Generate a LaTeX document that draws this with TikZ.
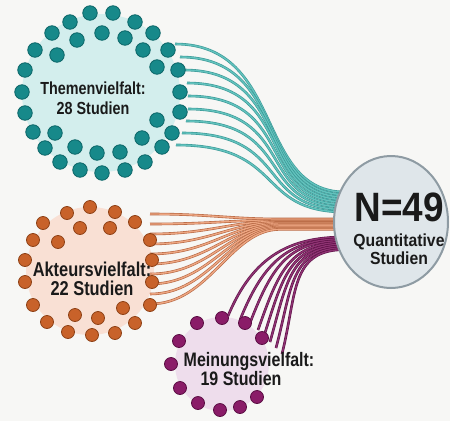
\documentclass[tikz,border=0pt]{standalone}
\usepackage{fontspec}
\setmainfont{Liberation Sans}
\newfontfamily\condf[FakeStretch=0.82]{Liberation Sans}
\newfontfamily\condw[FakeStretch=0.9]{Liberation Sans}
\usetikzlibrary{calc}
\definecolor{bgc}{HTML}{F7F7F5}
\definecolor{tealL}{HTML}{D3EEED}
\definecolor{tealD}{HTML}{17898A}
\definecolor{tealB}{HTML}{0C6668}
\definecolor{tealLine}{HTML}{62C2BD}
\definecolor{tealLineD}{HTML}{3A9896}
\definecolor{oraL}{HTML}{F9E0D4}
\definecolor{oraD}{HTML}{C8622A}
\definecolor{oraB}{HTML}{8E4217}
\definecolor{oraLine}{HTML}{EDA682}
\definecolor{oraLineD}{HTML}{B56641}
\definecolor{purL}{HTML}{EEDDEC}
\definecolor{purD}{HTML}{8A1C68}
\definecolor{purB}{HTML}{5A0E43}
\definecolor{purLine}{HTML}{8E3272}
\definecolor{purLineD}{HTML}{5C1146}
\definecolor{nFill}{HTML}{DFE6EA}
\definecolor{nBorder}{HTML}{8E9BA3}
\definecolor{txt}{HTML}{1A1A1A}
\begin{document}
\begin{tikzpicture}[x=1pt,y=-1pt,
  tealdot/.style={circle,inner sep=0pt,minimum size=14.5pt,fill=tealD,draw=tealB,line width=0.8pt},
  oradot/.style={circle,inner sep=0pt,minimum size=13pt,fill=oraD,draw=oraB,line width=0.8pt},
  purdot/.style={circle,inner sep=0pt,minimum size=13pt,fill=purD,draw=purB,line width=0.8pt},
  halo/.style={circle,inner sep=0pt},
  tline/.style={draw=tealLineD,double=tealLine,line width=0.6pt,double distance=1.4pt},
  oline/.style={draw=oraLineD,double=oraLine,line width=0.6pt,double distance=1.4pt},
  pline/.style={draw=purLineD,double=purLine,line width=0.6pt,double distance=1.4pt},
  lbl/.style={inner sep=0pt,text=txt,align=center}]
\fill[bgc] (0,0) rectangle (450,421);
\useasboundingbox (0,0) rectangle (450,421);

% halos
\node[halo,fill=tealL,minimum size=158pt] (themen) at (101,93) {};
\node[halo,fill=oraL,minimum size=128pt] (akteur) at (90,271) {};
\node[halo,fill=purL,minimum size=94pt] (meinung) at (222,364) {};

% teal connectors
\foreach \x/\y [count=\i from 0] in {175/44,180/57,184/70,187/83,188/96,188/109,186/121,182/133,176/145}{
  \coordinate (ts\i) at (\x,\y);
  \coordinate (te\i) at (345,{192+2.5*\i});
  \draw[tline] (ts\i) .. controls ($(ts\i)+(110,0)$) and (255,{192+2.5*\i}) .. (te\i);
}
% orange connectors
\foreach \i in {0,...,9}{
  \coordinate (os\i) at (150,{214+10*\i});
  \coordinate (oe\i) at (345,{219+1.15*\i});
  \draw[oline] (os\i) .. controls ($(os\i)+(60,0)$) and (230,{219+1.15*\i}) .. (280,{219+1.15*\i}) -- (oe\i);
}
% purple connectors
\foreach \x/\y/\dx [count=\i from 0] in {228/316/25,240/320/24,250/323/23,258/330/21,264/336/19,270/342/17,276/348/16,282/354/15}{
  \coordinate (ps\i) at (\x,\y);
  \coordinate (pe\i) at (345,{237+1.8*\i});
  \draw[pline] (ps\i) .. controls ($(ps\i)+(\dx,-60)$) and (290,{237+1.8*\i}) .. (pe\i);
}

% teal dots
\foreach \x/\y [count=\i] in {90/13,113/13,70/22,135/22,52/33,153/33,35/50,168/50,25/70,178/70,22/92,180/92,25/113,180/112,33/132,172/133,45/148,162/147,60/162,145/162,80/170,125/170,102/173,102/33,125/38,77/40,57/55,143/50,157/67,157/120,142/138,55/133,75/147,97/153,120/152}
  \node[tealdot] (td\i) at (\x,\y) {};
% orange dots
\foreach \x/\y [count=\i] in {90/207,67/213,115/212,43/223,135/222,33/240,150/240,25/260,152/260,25/282,152/282,33/305,150/305,47/322,135/323,68/332,92/335,115/333,80/228,110/228,58/242,75/315,98/318,123/308}
  \node[oradot] (od\i) at (\x,\y) {};
% purple dots
\foreach \x/\y [count=\i] in {197/323,222/318,245/323,262/338,179/341,171/364,180/388,198/403,220/410,240/407,257/397}
  \node[purdot] (pd\i) at (\x,\y) {};

% labels
\node[lbl,font=\condf\bfseries\fontsize{17.5}{20}\selectfont] (themenT) at (93,98) {Themenvielfalt:\\28 Studien};
\node[lbl,font=\condf\bfseries\fontsize{20}{19.5}\selectfont] (akteurT) at (92,279) {Akteursvielfalt:\\22 Studien};
\node[lbl,font=\condf\bfseries\fontsize{19.5}{19}\selectfont] (meinT1) at (249,361) {Meinungsvielfalt:};
\node[lbl,font=\condf\bfseries\fontsize{19.5}{19}\selectfont] (meinT2) at (241,379) {19 Studien};

% central node
\draw[fill=nFill,draw=nBorder,line width=2pt] (391,222) ellipse [x radius=57, y radius=66];
\coordinate (center) at (391,222);
\node[lbl,font=\condw\bfseries\fontsize{41}{41}\selectfont] (ntitle) at (399,207) {N=49};
\node[lbl,font=\condw\bfseries\fontsize{17.5}{18}\selectfont] (nsub) at (399,249) {Quantitative\\Studien};
\end{tikzpicture}
\end{document}
